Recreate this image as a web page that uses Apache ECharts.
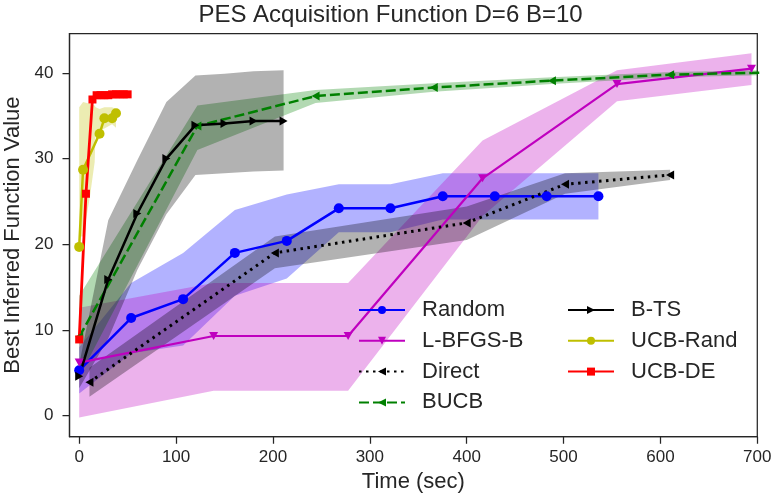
<!DOCTYPE html>
<html>
<head>
<meta charset="utf-8">
<script src="https://cdn.jsdelivr.net/npm/echarts@6/dist/echarts.min.js"></script>
<style>
  html, body { margin: 0; padding: 0; background: #fff; }
  #chart { width: 781px; height: 503px; }
</style>
</head>
<body>
<div id="chart"></div>
<script>
// tick labels
const xTicks = [0, 100, 200, 300, 400, 500, 600, 700]
const yTicks = [0, 10, 20, 30, 40]

// Random
const randomX = [0, 53.6, 107.3, 160.7, 214.3, 268, 321.3, 375.3, 429, 482.6, 536]
const randomY = [5.3, 11.4, 13.6, 19.0, 20.4, 24.2, 24.2, 25.6, 25.6, 25.6, 25.6]
const randomLo = [2.6, 7.3, 8.2, 14.0, 16.0, 21.4, 21.4, 22.9, 22.9, 22.9, 22.9]
const randomHi = [8.0, 15.5, 19.0, 24.0, 25.8, 27.0, 27.0, 28.3, 28.3, 28.3, 28.3]

// L-BFGS-B
const lbfgsX = [0, 138.8, 277.6, 416.4, 555.2, 694]
const lbfgsY = [6.2, 9.3, 9.3, 27.7, 38.7, 40.5]
const lbfgsLo = [-0.2, 2.9, 2.9, 23.3, 36.7, 38.6]
const lbfgsHi = [12.6, 15.5, 15.5, 32.1, 40.3, 42.3]

// Direct
const directX = [10.6, 202, 400, 501.5, 610]
const directY = [3.9, 19.0, 22.5, 27.0, 28.1]
const directLo = [2.2, 17.2, 20.5, 25.9, 27.5]
const directHi = [5.6, 20.9, 24.4, 28.3, 28.7]

// BUCB
const bucbX = [0, 122, 244, 366, 488, 610, 732]
const bucbY = [9.2, 33.8, 37.3, 38.3, 39.1, 39.8, 40.1]
const bucbLo = [4.5, 31.0, 36.5, 37.8, 38.7, 39.5, 39.8]
const bucbHi = [14.0, 36.2, 38.0, 38.8, 39.5, 40.1, 40.4]

// B-TS
const btsX = [0, 30, 60, 90, 120, 150, 180, 211]
const btsY = [4.6, 15.9, 23.6, 30.0, 33.9, 34.1, 34.4, 34.4]
const btsLo = [3.2, 9.0, 17.0, 23.5, 28.1, 28.3, 28.5, 28.6]
const btsHi = [6.0, 22.8, 29.8, 36.6, 39.7, 39.9, 40.2, 40.3]

// UCB-Rand (band sampled on its own time grid)
const ucbRandX = [0, 4, 21, 26, 34, 38]
const ucbRandY = [19.7, 28.7, 32.9, 34.7, 34.7, 35.3]
const ucbRandBandX = [0, 4, 11, 16, 17, 21, 26, 34, 38]
const ucbRandLo = [20.9, 20.9, 25.5, 29.6, 33.3, 33.3, 33.5, 34.0, 33.6]
const ucbRandHi = [36.0, 36.6, 36.4, 36.2, 36.0, 35.8, 36.0, 36.0, 35.8]

// UCB-DE
const ucbDeX = [0, 7, 13.7, 18, 22, 26, 30, 34, 38, 42, 46, 50]
const ucbDeY = [8.9, 25.9, 36.9, 37.4, 37.4, 37.4, 37.4, 37.5, 37.5, 37.5, 37.5, 37.5]
const ucbDeLo = [8.6, 25.5, 36.5, 37.1, 37.1, 37.1, 37.1, 37.2, 37.2, 37.2, 37.2, 37.2]
const ucbDeHi = [9.2, 26.3, 37.3, 37.7, 37.7, 37.7, 37.7, 37.8, 37.8, 37.8, 37.8, 37.8]

const FONT = "'Liberation Sans', Arial, sans-serif"
const INK = '#262626'

function band(xs, lo, hi, color) {
  return {
    type: 'custom',
    silent: true,
    clip: true,
    z: 1,
    data: xs.map((x, i) => [x, lo[i], hi[i]]),
    encode: { x: 0, y: [1, 2] },
    renderItem: (params, api) => {
      if (params.dataIndexInside !== 0) return null
      const top = []
      const bottom = []
      for (let i = 0; i < params.dataInsideLength; i++) {
        top.push(api.coord([api.value(0, i), api.value(2, i)]))
        bottom.push(api.coord([api.value(0, i), api.value(1, i)]))
      }
      return {
        type: 'polygon',
        shape: { points: top.concat(bottom.reverse()) },
        style: { fill: color, opacity: 0.3 }
      }
    }
  }
}

function line(name, xs, ys, color, symbol, opts) {
  opts = opts || {}
  return {
    type: 'line',
    name: name,
    z: 3,
    clip: true,
    data: xs.map((x, i) => [x, ys[i]]),
    symbol: symbol,
    symbolSize: opts.size || 9,
    symbolRotate: opts.rotate || 0,
    showAllSymbol: true,
    lineStyle: { color: color, width: opts.width || 2.5, type: opts.type || 'solid' },
    itemStyle: { color: color, borderWidth: 0 }
  }
}

const chart = echarts.init(document.getElementById('chart'), null, { renderer: 'canvas' })

const legendText = { fontFamily: FONT, fontSize: 22, color: INK, lineHeight: 22, padding: [0, 0, 0, 12] }

chart.setOption({
  animation: false,
  backgroundColor: '#fff',
  title: {
    text: 'PES Acquisition Function D=6 B=10',
    left: 'center',
    top: 3,
    padding: [0, 0, 0, 46],
    textStyle: { fontFamily: FONT, fontSize: 24, fontWeight: 'normal', color: INK }
  },
  grid: {
    left: 69.5, right: 23.7, top: 33.5, bottom: 66.3,
    containLabel: false,
    outerBoundsMode: 'none',
    show: true,
    borderColor: INK,
    borderWidth: 1.25,
    backgroundColor: 'transparent'
  },
  legend: [
    {
      data: ['Random', 'L-BFGS-B', 'Direct', 'BUCB'],
      orient: 'vertical',
      left: 358, top: 299,
      padding: 0,
      itemWidth: 46, itemHeight: 10, itemGap: 8.8,
      selectedMode: false,
      textStyle: legendText
    },
    {
      data: ['B-TS', 'UCB-Rand', 'UCB-DE'],
      orient: 'vertical',
      left: 567, top: 299,
      padding: 0,
      itemWidth: 46, itemHeight: 10, itemGap: 8.8,
      selectedMode: false,
      textStyle: legendText
    }
  ],
  xAxis: {
    type: 'value',
    min: -10, max: 700,
    name: 'Time (sec)',
    nameLocation: 'middle',
    nameGap: 32,
    nameTextStyle: { fontFamily: FONT, fontSize: 22, color: INK },
    splitLine: { show: false },
    axisLine: { show: true, onZero: false, lineStyle: { color: INK, width: 1.25 } },
    axisTick: { show: true, length: 7, lineStyle: { color: INK, width: 1.25 }, customValues: xTicks },
    axisLabel: { fontFamily: FONT, fontSize: 17, color: INK, margin: 12, customValues: xTicks }
  },
  yAxis: {
    type: 'value',
    min: -2.45, max: 44.6,
    name: 'Best Inferred Function Value',
    nameLocation: 'middle',
    nameGap: 39,
    nameTextStyle: { fontFamily: FONT, fontSize: 22, color: INK },
    splitLine: { show: false },
    axisLine: { show: true, onZero: false, lineStyle: { color: INK, width: 1.25 } },
    axisTick: { show: true, length: 7, lineStyle: { color: INK, width: 1.25 }, customValues: yTicks },
    axisLabel: { fontFamily: FONT, fontSize: 17, color: INK, margin: 16, customValues: yTicks }
  },
  series: [
    band(randomX, randomLo, randomHi, '#0000ff'),
    band(lbfgsX, lbfgsLo, lbfgsHi, '#bf00bf'),
    band(directX, directLo, directHi, '#000000'),
    band(bucbX, bucbLo, bucbHi, '#008000'),
    band(btsX, btsLo, btsHi, '#000000'),
    band(ucbRandBandX, ucbRandLo, ucbRandHi, '#bfbf00'),
    band(ucbDeX, ucbDeLo, ucbDeHi, '#ff0000'),
    line('Random', randomX, randomY, '#0000ff', 'circle', { size: 10 }),
    line('L-BFGS-B', lbfgsX, lbfgsY, '#bf00bf', 'triangle', { size: [9, 8], rotate: 180, width: 2.2 }),
    line('Direct', directX, directY, '#000000', 'triangle', { size: [9, 8], rotate: 90, width: 3, type: [2.5, 4.5] }),
    line('BUCB', bucbX, bucbY, '#008000', 'triangle', { size: [9, 8], rotate: 90, type: [10, 4] }),
    line('B-TS', btsX, btsY, '#000000', 'triangle', { size: [9, 8], rotate: -90 }),
    line('UCB-Rand', ucbRandX, ucbRandY, '#bfbf00', 'circle', { size: 10 }),
    line('UCB-DE', ucbDeX, ucbDeY, '#ff0000', 'rect', { size: 8, width: 2.8 })
  ]
})
</script>
</body>
</html>
